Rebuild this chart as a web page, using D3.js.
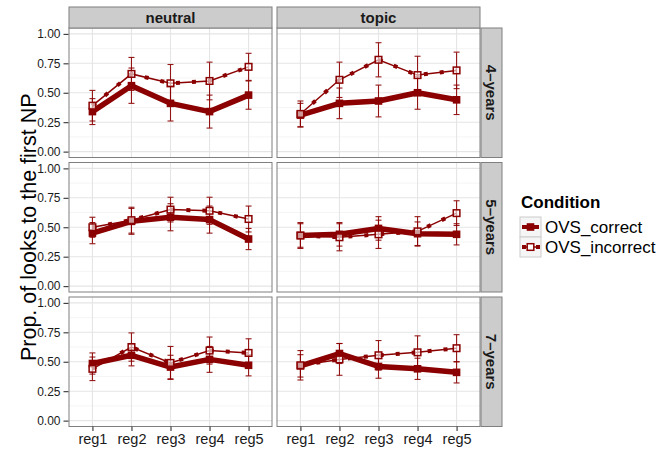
<!DOCTYPE html>
<html><head><meta charset="utf-8">
<script src="https://cdn.jsdelivr.net/npm/d3@7"></script>
<style>body{margin:0;background:#fff}svg{display:block}</style>
</head><body>
<svg id="chart" width="660" height="451"></svg>
<script>
// ---- data ----
const regions = ["reg1","reg2","reg3","reg4","reg5"];
const contexts = ["neutral","topic"];
const ages = ["4\u2013years","5\u2013years","7\u2013years"];
const conditions = ["OVS_correct","OVS_incorrect"];
const yTicks = [0, 0.25, 0.5, 0.75, 1];
const yMinor = [0.125, 0.375, 0.625, 0.875];

const neutral4_correct     = [0.34, 0.56, 0.41, 0.34, 0.48];
const neutral4_correct_se  = [0.11, 0.15, 0.15, 0.14, 0.12];
const neutral4_incorrect   = [0.39, 0.66, 0.58, 0.60, 0.72];
const neutral4_incorrect_se= [0.13, 0.14, 0.16, 0.16, 0.115];

const topic4_correct       = [0.31, 0.41, 0.43, 0.50, 0.44];
const topic4_correct_se    = [0.10, 0.13, 0.135, 0.14, 0.125];
const topic4_incorrect     = [0.32, 0.61, 0.78, 0.65, 0.69];
const topic4_incorrect_se  = [0.11, 0.15, 0.145, 0.16, 0.155];

const neutral5_correct     = [0.45, 0.55, 0.585, 0.565, 0.40];
const neutral5_correct_se  = [0.09, 0.11, 0.115, 0.115, 0.09];
const neutral5_incorrect   = [0.50, 0.56, 0.65, 0.64, 0.57];
const neutral5_incorrect_se= [0.085, 0.11, 0.105, 0.115, 0.11];

const topic5_correct       = [0.43, 0.44, 0.49, 0.445, 0.44];
const topic5_correct_se    = [0.10, 0.10, 0.10, 0.10, 0.09];
const topic5_incorrect     = [0.43, 0.415, 0.44, 0.465, 0.62];
const topic5_incorrect_se  = [0.11, 0.115, 0.12, 0.125, 0.105];

const neutral7_correct     = [0.485, 0.555, 0.455, 0.52, 0.47];
const neutral7_correct_se  = [0.09, 0.09, 0.10, 0.11, 0.09];
const neutral7_incorrect   = [0.44, 0.625, 0.49, 0.595, 0.575];
const neutral7_incorrect_se= [0.10, 0.12, 0.14, 0.115, 0.12];

const topic7_correct       = [0.465, 0.57, 0.46, 0.44, 0.41];
const topic7_correct_se    = [0.095, 0.085, 0.10, 0.09, 0.09];
const topic7_incorrect     = [0.47, 0.52, 0.555, 0.58, 0.615];
const topic7_incorrect_se  = [0.125, 0.135, 0.125, 0.14, 0.115];

const panelData = [
  [ {c:neutral4_correct,cs:neutral4_correct_se,i:neutral4_incorrect,is:neutral4_incorrect_se},
    {c:topic4_correct,cs:topic4_correct_se,i:topic4_incorrect,is:topic4_incorrect_se} ],
  [ {c:neutral5_correct,cs:neutral5_correct_se,i:neutral5_incorrect,is:neutral5_incorrect_se},
    {c:topic5_correct,cs:topic5_correct_se,i:topic5_incorrect,is:topic5_incorrect_se} ],
  [ {c:neutral7_correct,cs:neutral7_correct_se,i:neutral7_incorrect,is:neutral7_incorrect_se},
    {c:topic7_correct,cs:topic7_correct_se,i:topic7_incorrect,is:topic7_incorrect_se} ]
];

// ---- layout ----
const RED = "#8B0000";
const FONT = "'Liberation Sans', Arial, Helvetica, sans-serif";
const panelLeft = [69, 277], panelW = 203;
const rowTop = [28, 162.5, 297], panelH = 129.5;
const svg = d3.select("#chart").style("font-family", FONT);

function drawPanel(g, x, y, d) {
  // background + grid
  g.append("rect").attr("x", x.range()[0]).attr("y", y.range()[1])
    .attr("width", panelW).attr("height", panelH).attr("fill", "#fff");
  g.selectAll(".minor").data(yMinor).join("line")
    .attr("x1", x.range()[0]).attr("x2", x.range()[1])
    .attr("y1", v => y(v)).attr("y2", v => y(v))
    .attr("stroke", "#f5f5f5").attr("stroke-width", 1);
  g.selectAll(".majy").data(yTicks).join("line")
    .attr("x1", x.range()[0]).attr("x2", x.range()[1])
    .attr("y1", v => y(v)).attr("y2", v => y(v))
    .attr("stroke", "#e5e5e5").attr("stroke-width", 1.1);
  g.selectAll(".majx").data(regions).join("line")
    .attr("x1", r => x(r)).attr("x2", r => x(r))
    .attr("y1", y.range()[0]).attr("y2", y.range()[1])
    .attr("stroke", "#e5e5e5").attr("stroke-width", 1.1);

  const series = [
    {vals: d.c, se: d.cs, type: "correct"},
    {vals: d.i, se: d.is, type: "incorrect"}
  ];
  // error bars
  series.forEach(s => {
    const eb = g.append("g").attr("stroke", RED).attr("stroke-width", 1.1).attr("opacity", 0.9);
    regions.forEach((r, k) => {
      const lo = y(s.vals[k] - s.se[k]), hi = y(s.vals[k] + s.se[k]), cx = x(r);
      eb.append("line").attr("x1", cx).attr("x2", cx).attr("y1", lo).attr("y2", hi);
      eb.append("line").attr("x1", cx - 3).attr("x2", cx + 3).attr("y1", lo).attr("y2", lo);
      eb.append("line").attr("x1", cx - 3).attr("x2", cx + 3).attr("y1", hi).attr("y2", hi);
    });
  });
  const line = d3.line().x((v, k) => x(regions[k])).y(v => y(v));
  // incorrect line
  g.append("path").attr("d", line(d.i)).attr("fill", "none")
    .attr("stroke", RED).attr("stroke-width", 1.5);
  g.append("path").attr("d", line(d.i)).attr("fill", "none")
    .attr("stroke", RED).attr("stroke-width", 4).attr("stroke-dasharray", "4 12");
  // correct line
  g.append("path").attr("d", line(d.c)).attr("fill", "none")
    .attr("stroke", RED).attr("stroke-width", 5.5).attr("stroke-linejoin", "round");
  // points
  g.selectAll(".pc").data(d.c).join("rect")
    .attr("x", (v, k) => x(regions[k]) - 3.8).attr("y", v => y(v) - 3.8)
    .attr("width", 7.6).attr("height", 7.6).attr("fill", RED);
  g.selectAll(".pi").data(d.i).join("rect")
    .attr("x", (v, k) => x(regions[k]) - 3.3).attr("y", v => y(v) - 3.3)
    .attr("width", 6.6).attr("height", 6.6).attr("fill", "#fff")
    .attr("fill-opacity", 0.6).attr("stroke", RED).attr("stroke-width", 1.5);
  // border
  g.append("rect").attr("x", x.range()[0]).attr("y", y.range()[1])
    .attr("width", panelW).attr("height", panelH)
    .attr("fill", "none").attr("stroke", "#7f7f7f").attr("stroke-width", 1);
}

rowTop.forEach((top, ri) => {
  const y = d3.scaleLinear().domain([-0.05, 1.05]).range([top + panelH, top]);
  panelLeft.forEach((left, ci) => {
    const x = d3.scalePoint().domain(regions).range([left, left + panelW]).padding(0.6);
    drawPanel(svg.append("g"), x, y, panelData[ri][ci]);
    if (ri === rowTop.length - 1) {
      const ax = svg.append("g").attr("transform", `translate(0,${top + panelH})`)
        .call(d3.axisBottom(x).tickSize(4.5).tickPadding(3));
      ax.select(".domain").remove();
      ax.selectAll(".tick line").attr("stroke", "#333").attr("stroke-width", 1.1);
      ax.selectAll("text").attr("font-size", "14.5px").attr("fill", "#1a1a1a")
        .attr("font-family", FONT);
    }
  });
  // y axis
  const ay = svg.append("g").attr("transform", `translate(${panelLeft[0] - 0.5},0)`)
    .call(d3.axisLeft(y).tickValues(yTicks).tickFormat(d3.format(".2f")).tickSize(5).tickPadding(3));
  ay.select(".domain").remove();
  ay.selectAll(".tick line").attr("stroke", "#333").attr("stroke-width", 1.1);
  ay.selectAll("text").attr("font-size", "12px").attr("fill", "#1a1a1a").attr("font-family", FONT);
  // right strip
  const sx = panelLeft[1] + panelW + 1;
  svg.append("rect").attr("x", sx).attr("y", top).attr("width", 21).attr("height", panelH)
    .attr("fill", "#cccccc").attr("stroke", "#7f7f7f").attr("stroke-width", 1);
  svg.append("text").attr("transform", `translate(${sx + 10.5},${top + panelH / 2}) rotate(90)`)
    .attr("text-anchor", "middle").attr("dy", "0.36em")
    .attr("font-size", "15px").attr("font-weight", "bold").attr("fill", "#1a1a1a")
    .text(ages[ri]);
});

// top strips
panelLeft.forEach((left, ci) => {
  svg.append("rect").attr("x", left).attr("y", 7).attr("width", panelW).attr("height", 21)
    .attr("fill", "#cccccc").attr("stroke", "#7f7f7f").attr("stroke-width", 1);
  svg.append("text").attr("x", left + panelW / 2).attr("y", 17.5)
    .attr("text-anchor", "middle").attr("dy", "0.36em")
    .attr("font-size", "15px").attr("font-weight", "bold").attr("fill", "#1a1a1a")
    .text(contexts[ci]);
});

// y axis title
svg.append("text").attr("transform", `translate(35.5,${(rowTop[0] + rowTop[2] + panelH) / 2}) rotate(-90)`)
  .attr("text-anchor", "middle").attr("font-size", "21.5px").attr("fill", "#000")
  .text("Prop. of looks to the first NP");

// legend
const lg = svg.append("g").attr("transform", "translate(520,0)");
lg.append("text").attr("x", 1).attr("y", 208).attr("font-size", "17px")
  .attr("font-weight", "bold").text("Condition");
conditions.forEach((c, k) => {
  const ky = 217 + k * 20;
  lg.append("rect").attr("x", 0).attr("y", ky).attr("width", 21).attr("height", 20)
    .attr("fill", "#f5f5f5").attr("stroke", "#cccccc").attr("stroke-width", 1);
  const cy = ky + 10;
  if (c === "OVS_correct") {
    lg.append("line").attr("x1", 2).attr("x2", 19).attr("y1", cy).attr("y2", cy)
      .attr("stroke", RED).attr("stroke-width", 4);
    lg.append("rect").attr("x", 6.7).attr("y", cy - 3.8).attr("width", 7.6).attr("height", 7.6).attr("fill", RED);
  } else {
    lg.append("line").attr("x1", 2).attr("x2", 19).attr("y1", cy).attr("y2", cy)
      .attr("stroke", RED).attr("stroke-width", 1.5);
    lg.append("rect").attr("x", 2).attr("y", cy - 2).attr("width", 4).attr("height", 4).attr("fill", RED);
    lg.append("rect").attr("x", 16).attr("y", cy - 2).attr("width", 4).attr("height", 4).attr("fill", RED);
    lg.append("rect").attr("x", 7.2).attr("y", cy - 3.3).attr("width", 6.6).attr("height", 6.6)
      .attr("fill", "#fff").attr("stroke", RED).attr("stroke-width", 1.5);
  }
  lg.append("text").attr("x", 25).attr("y", cy).attr("dy", "0.36em")
    .attr("font-size", "17px").attr("fill", "#000").text(c);
});
</script>
</body></html>
